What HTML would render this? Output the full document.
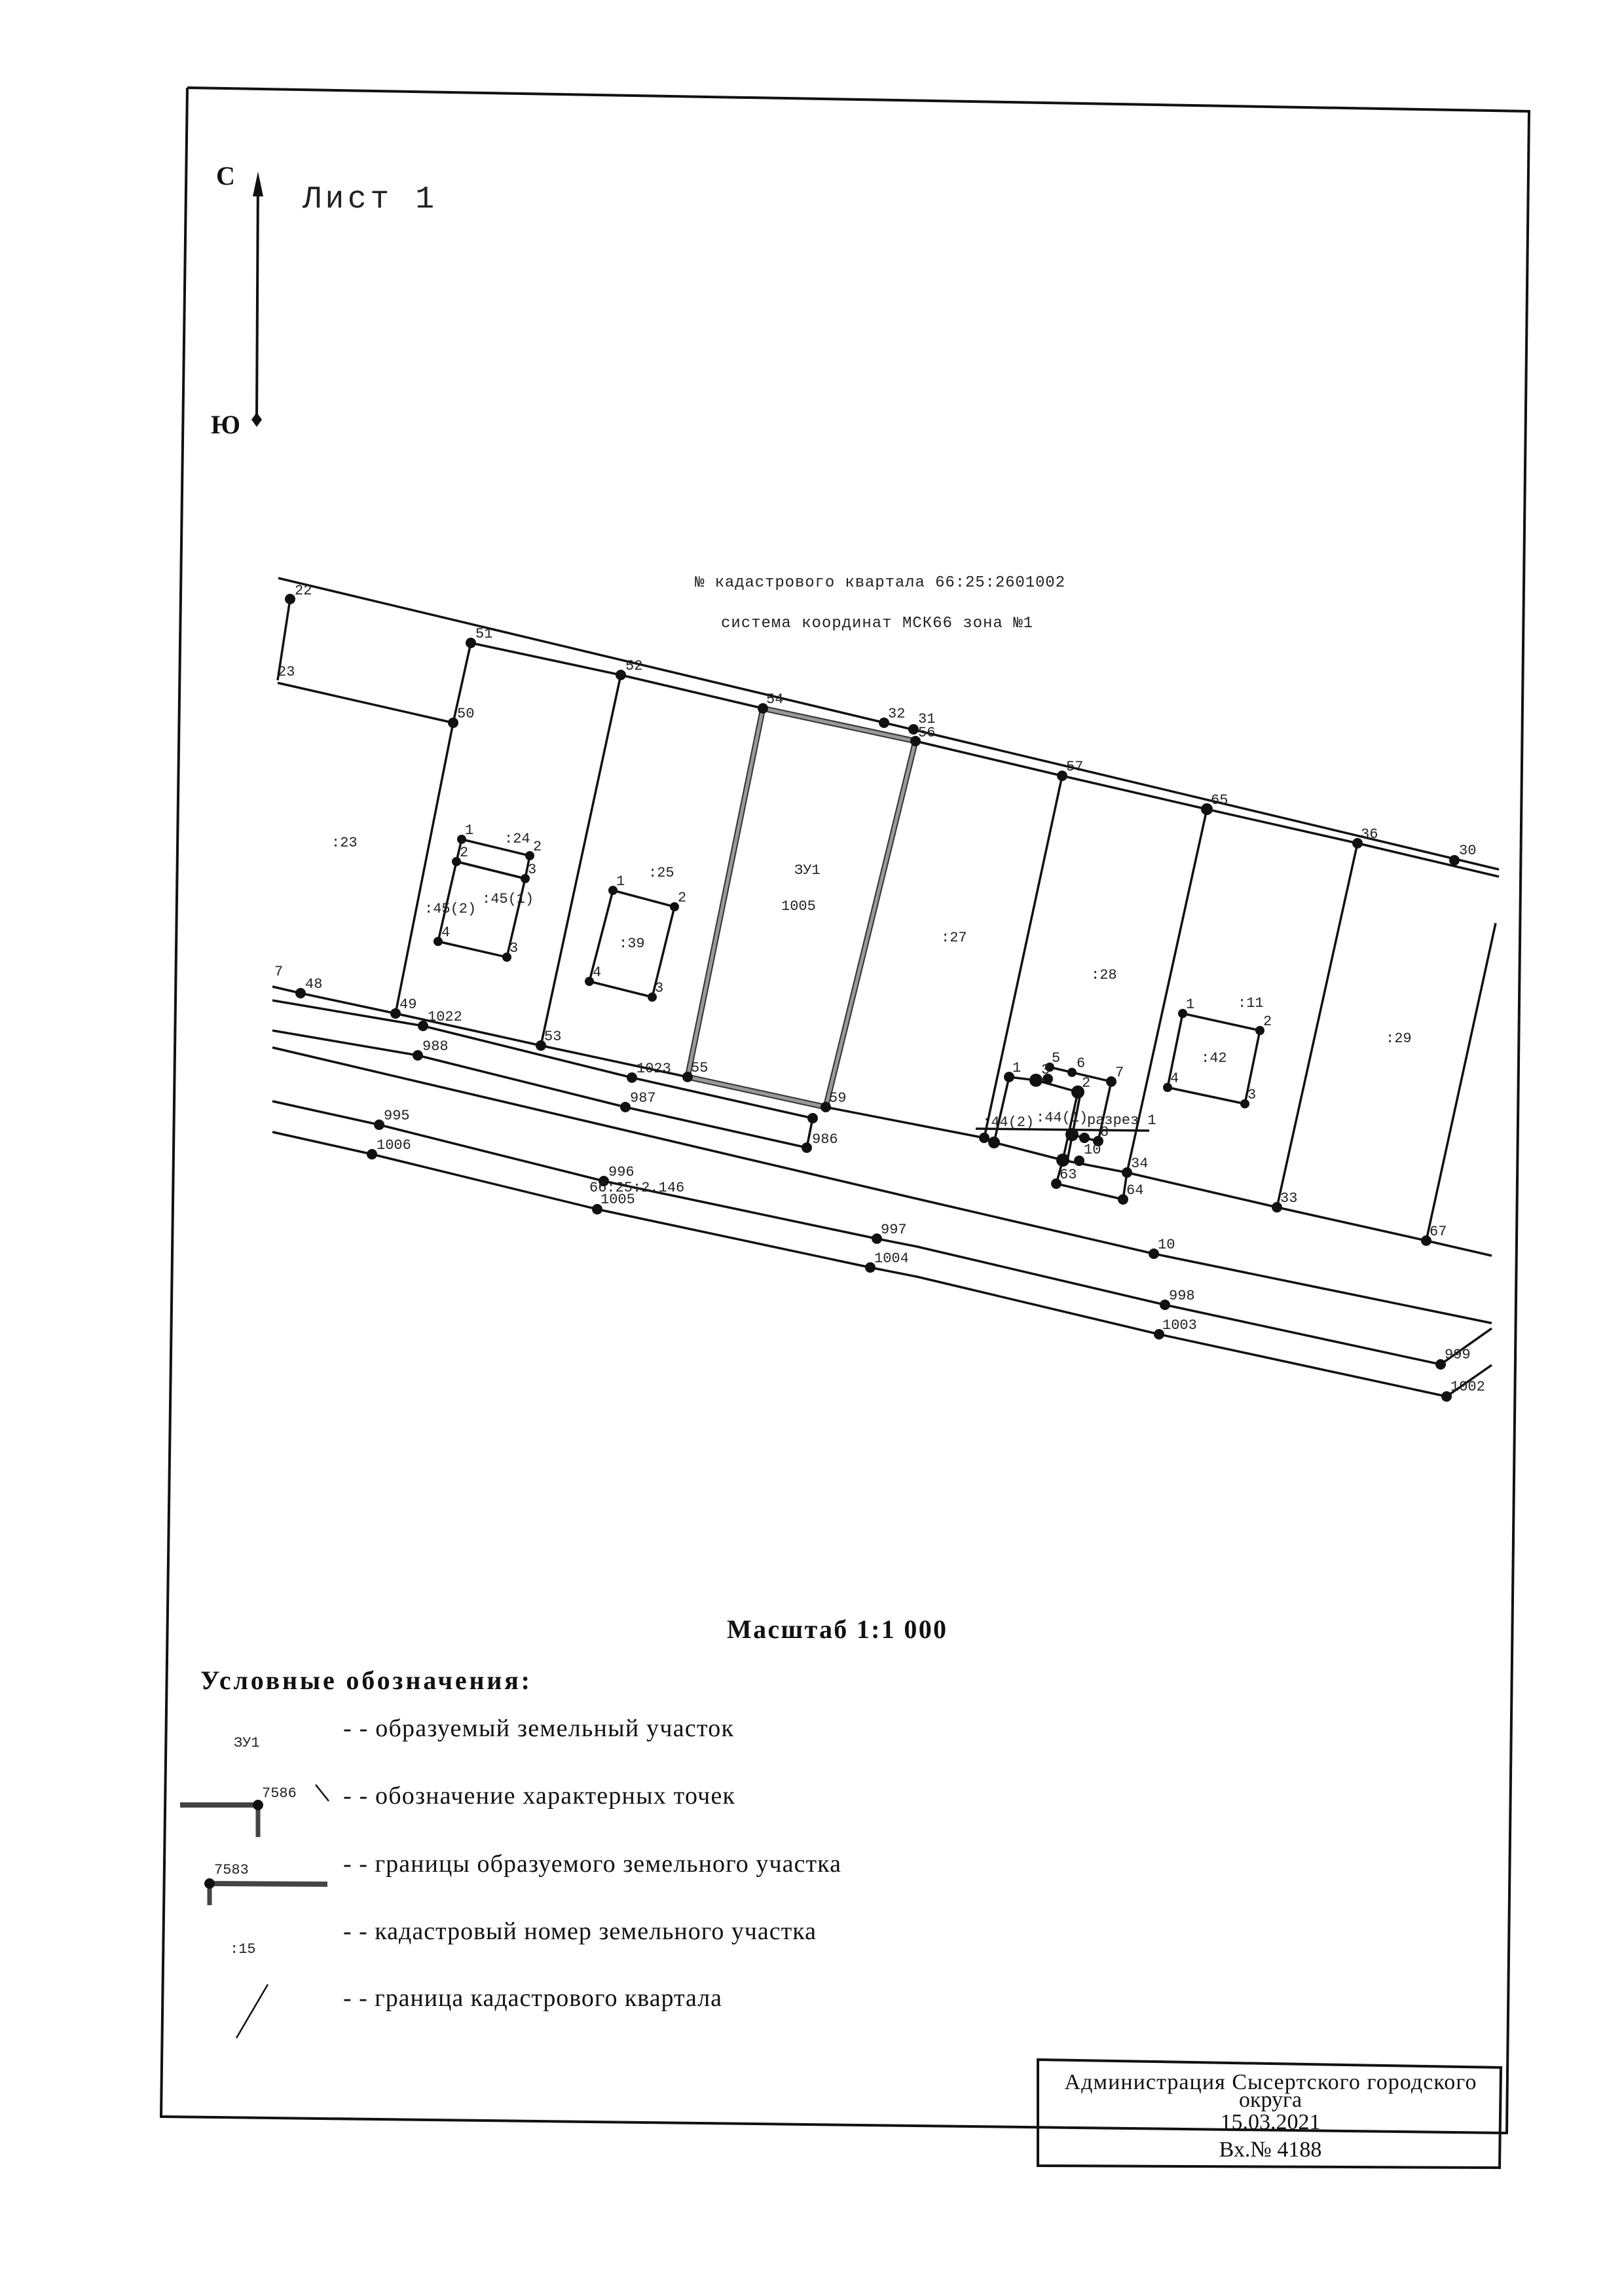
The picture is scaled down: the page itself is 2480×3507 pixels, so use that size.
<!DOCTYPE html>
<html><head><meta charset="utf-8"><style>
html,body{margin:0;padding:0;background:#fff}
svg{display:block}
.m{font-family:"Liberation Mono",monospace;fill:#222}
.s{font-family:"Liberation Serif",serif;fill:#111}
</style></head><body>
<svg width="2480" height="3507" viewBox="0 0 2480 3507" xmlns="http://www.w3.org/2000/svg">
<rect width="2480" height="3507" fill="#fff"/>
<!-- frame -->
<polyline points="286,134 2335,170 2301,3258 246,3233 286,134" fill="none" stroke="#111" stroke-width="4"/>
<!-- north arrow -->
<line x1="394" y1="275" x2="392" y2="640" stroke="#111" stroke-width="4"/>
<polygon points="394,262 386,300 402,300" fill="#111"/>
<polygon points="392,652 384,641 392,630 400,641" fill="#111"/>
<text x="330" y="282" class="s" font-size="40" font-weight="bold">С</text>
<text x="322" y="662" class="s" font-size="40" font-weight="bold">Ю</text>
<text x="462" y="317" class="m" font-size="48" textLength="201" style="font-family:'Liberation Mono',monospace">Лист 1</text>
<!-- header -->
<text x="1061" y="896" class="m" font-size="24" textLength="565">№ кадастрового квартала 66:25:2601002</text>
<text x="1101" y="958" class="m" font-size="24" textLength="476">система координат МСК66 зона №1</text>

<g fill="none" stroke="#111" stroke-width="3.5">
<!-- line A & B -->
<line x1="425" y1="883" x2="2289" y2="1328"/>
<polyline points="719,982 948,1031 1165,1082 1398,1132 1622,1185 1843,1236 2073,1288 2289,1339"/>
<line x1="443" y1="915" x2="424" y2="1039"/>
<line x1="424" y1="1043" x2="692" y2="1104"/>
<polyline points="719,982 692,1104 604,1548"/>
<line x1="948" y1="1031" x2="826" y2="1597"/>
<line x1="1622" y1="1185" x2="1503" y2="1738"/>
<polyline points="1843,1236 1721,1791 1715,1832"/>
<line x1="2073" y1="1288" x2="1950" y2="1844"/>
<line x1="2284" y1="1410" x2="2178" y2="1895"/>
<!-- L1 -->
<polyline points="416,1507 459,1517 604,1548 826,1597 1050,1645 1261,1691 1503,1738 1518,1745 1623,1772 1721,1791 1950,1844 2178,1895 2278,1918"/>
<!-- L2 -->
<polyline points="416,1528 646,1567 965,1646 1241,1708 1232,1753 955,1691 638,1612 416,1574"/>
<!-- L4 -->
<polyline points="416,1600 1400,1831 1762,1915 2278,2021"/>
<!-- L5 -->
<polyline points="416,1682 579,1718 922,1804 1339,1892 1400,1904 1779,1993 2200,2084 2278,2029"/>
<!-- L6 -->
<polyline points="416,1729 568,1763 912,1847 1329,1936 1400,1950 1770,2038 2209,2133 2278,2085"/>
<!-- buildings -->
<polygon points="705,1282 809,1307 802,1342 697,1316"/>
<polygon points="697,1316 802,1342 774,1462 669,1438"/>
<polygon points="936,1360 1030,1385 996,1523 900,1499"/>
<polygon points="1806,1548 1924,1574 1901,1686 1783,1661"/>
<!-- cluster -->
<polyline points="1541,1645 1582,1650 1646,1668 1623,1772"/>
<polyline points="1541,1645 1518,1745"/>
<polyline points="1603,1630 1637,1638 1697,1652 1677,1743 1656,1738 1637,1733"/>
<polyline points="1650,1670 1630,1772"/>
<polyline points="1623,1772 1613,1808 1715,1832"/>
<line x1="1490" y1="1724" x2="1755" y2="1727"/>
</g>
<!-- thick gray boundary -->
<polygon points="1165,1082 1398,1132 1261,1691 1050,1645" fill="none" stroke="#333" stroke-width="9"/>
<polygon points="1165,1082 1398,1132 1261,1691 1050,1645" fill="none" stroke="#999" stroke-width="5"/>

<!-- dots -->
<g fill="#111">
<circle cx="443" cy="915" r="8"/><circle cx="1350" cy="1104" r="8"/><circle cx="1395" cy="1114" r="8"/><circle cx="2221" cy="1314" r="8"/>
<circle cx="719" cy="982" r="8"/><circle cx="948" cy="1031" r="8"/><circle cx="1165" cy="1082" r="8"/><circle cx="1398" cy="1132" r="8"/>
<circle cx="1622" cy="1185" r="8"/><circle cx="1843" cy="1236" r="9"/><circle cx="2073" cy="1288" r="8"/>
<circle cx="692" cy="1104" r="8"/><circle cx="604" cy="1548" r="8"/><circle cx="826" cy="1597" r="8"/><circle cx="1050" cy="1645" r="8"/><circle cx="1261" cy="1691" r="8"/>
<circle cx="459" cy="1517" r="8"/><circle cx="646" cy="1567" r="8"/><circle cx="638" cy="1612" r="8"/><circle cx="965" cy="1646" r="8"/><circle cx="955" cy="1691" r="8"/>
<circle cx="1241" cy="1708" r="8"/><circle cx="1232" cy="1753" r="8"/><circle cx="579" cy="1718" r="8"/><circle cx="568" cy="1763" r="8"/>
<circle cx="922" cy="1804" r="8"/><circle cx="912" cy="1847" r="8"/><circle cx="1339" cy="1892" r="8"/><circle cx="1329" cy="1936" r="8"/>
<circle cx="1721" cy="1791" r="8"/><circle cx="1715" cy="1832" r="8"/><circle cx="1613" cy="1808" r="8"/><circle cx="1950" cy="1844" r="8"/><circle cx="2178" cy="1895" r="8"/>
<circle cx="1762" cy="1915" r="8"/><circle cx="1779" cy="1993" r="8"/><circle cx="2200" cy="2084" r="8"/><circle cx="1770" cy="2038" r="8"/><circle cx="2209" cy="2133" r="8"/>
<circle cx="705" cy="1282" r="7"/><circle cx="809" cy="1307" r="7"/><circle cx="802" cy="1342" r="7"/><circle cx="697" cy="1316" r="7"/><circle cx="774" cy="1462" r="7"/><circle cx="669" cy="1438" r="7"/>
<circle cx="936" cy="1360" r="7"/><circle cx="1030" cy="1385" r="7"/><circle cx="996" cy="1523" r="7"/><circle cx="900" cy="1499" r="7"/>
<circle cx="1806" cy="1548" r="7"/><circle cx="1924" cy="1574" r="7"/><circle cx="1901" cy="1686" r="7"/><circle cx="1783" cy="1661" r="7"/>
<circle cx="1541" cy="1645" r="8"/><circle cx="1582" cy="1650" r="10"/><circle cx="1600" cy="1648" r="8"/><circle cx="1603" cy="1630" r="7"/><circle cx="1637" cy="1638" r="7"/><circle cx="1697" cy="1652" r="8"/>
<circle cx="1646" cy="1668" r="10"/><circle cx="1677" cy="1743" r="8"/><circle cx="1656" cy="1738" r="8"/><circle cx="1637" cy="1733" r="10"/>
<circle cx="1623" cy="1772" r="10"/><circle cx="1648" cy="1773" r="8"/><circle cx="1503" cy="1738" r="8"/><circle cx="1518" cy="1745" r="9"/>
</g>

<!-- point labels -->
<g class="m" font-size="22">
<text x="450" y="908">22</text><text x="424" y="1032">23</text>
<text x="726" y="974">51</text><text x="955" y="1023">52</text><text x="1170" y="1074">54</text>
<text x="1356" y="1096">32</text><text x="1402" y="1104">31</text><text x="1402" y="1125">56</text>
<text x="1628" y="1177">57</text><text x="1849" y="1228">65</text><text x="2078" y="1280">36</text><text x="2228" y="1305">30</text>
<text x="698" y="1096">50</text><text x="610" y="1540">49</text><text x="831" y="1589">53</text><text x="1055" y="1637">55</text><text x="1266" y="1683">59</text>
<text x="419" y="1490">7</text><text x="466" y="1509">48</text><text x="653" y="1559">1022</text><text x="645" y="1604">988</text>
<text x="972" y="1638">1023</text><text x="962" y="1683">987</text><text x="1240" y="1746">986</text>
<text x="586" y="1710">995</text><text x="575" y="1755">1006</text><text x="929" y="1796">996</text><text x="900" y="1820">66:25:2.146</text><text x="917" y="1838">1005</text>
<text x="1345" y="1884">997</text><text x="1335" y="1928">1004</text>
<text x="1727" y="1783">34</text><text x="1720" y="1824">64</text><text x="1618" y="1800">63</text><text x="1955" y="1836">33</text><text x="2183" y="1887">67</text>
<text x="1768" y="1907">10</text><text x="1785" y="1985">998</text><text x="2206" y="2075">999</text><text x="1775" y="2030">1003</text><text x="2215" y="2124">1002</text>
<text x="710" y="1274">1</text><text x="814" y="1299">2</text><text x="806" y="1334">3</text><text x="702" y="1308">2</text><text x="778" y="1454">3</text><text x="674" y="1430">4</text>
<text x="941" y="1352">1</text><text x="1035" y="1377">2</text><text x="1000" y="1515">3</text><text x="905" y="1491">4</text>
<text x="1811" y="1540">1</text><text x="1929" y="1566">2</text><text x="1905" y="1678">3</text><text x="1787" y="1653">4</text>
<text x="1546" y="1637">1</text><text x="1590" y="1640">3</text><text x="1606" y="1622">5</text><text x="1644" y="1630">6</text><text x="1703" y="1644">7</text><text x="1652" y="1660">2</text>
<text x="1680" y="1735">8</text><text x="1655" y="1762">10</text>
<!-- parcel labels -->
<text x="506" y="1293">:23</text><text x="770" y="1287">:24</text><text x="736" y="1379">:45(1)</text><text x="648" y="1394">:45(2)</text>
<text x="990" y="1339">:25</text><text x="945" y="1447">:39</text><text x="1213" y="1335">ЗУ1</text><text x="1193" y="1390">1005</text>
<text x="1437" y="1438">:27</text><text x="1666" y="1495">:28</text><text x="1890" y="1538">:11</text><text x="1834" y="1622">:42</text><text x="2116" y="1592">:29</text>
<text x="1582" y="1713">:44(1)</text><text x="1500" y="1720">:44(2)</text><text x="1660" y="1717">разрез 1</text>
</g>

<!-- scale and legend -->
<text x="1110" y="2502" class="s" font-size="40" font-weight="bold" textLength="335">Масштаб 1:1 000</text>
<text x="306" y="2580" class="s" font-size="40" font-weight="bold" textLength="503">Условные обозначения:</text>
<text x="357" y="2668" class="m" font-size="22">ЗУ1</text>
<line x1="275" y1="2757" x2="394" y2="2757" stroke="#444" stroke-width="8"/>
<line x1="394" y1="2757" x2="394" y2="2806" stroke="#444" stroke-width="7"/>
<circle cx="394" cy="2757" r="8" fill="#111"/>
<text x="400" y="2745" class="m" font-size="22">7586</text>
<line x1="482" y1="2726" x2="502" y2="2751" stroke="#111" stroke-width="2.5"/>
<line x1="320" y1="2877" x2="500" y2="2878" stroke="#444" stroke-width="8"/>
<line x1="320" y1="2877" x2="320" y2="2910" stroke="#444" stroke-width="7"/>
<circle cx="320" cy="2877" r="8" fill="#111"/>
<text x="327" y="2862" class="m" font-size="22">7583</text>
<text x="351" y="2983" class="m" font-size="22">:15</text>
<line x1="409" y1="3031" x2="361" y2="3113" stroke="#111" stroke-width="2.5"/>
<g class="s" font-size="38">
<text x="524" y="2652" textLength="596">- - образуемый земельный участок</text>
<text x="524" y="2755" textLength="598">- - обозначение характерных точек</text>
<text x="524" y="2859" textLength="760">- - границы образуемого земельного участка</text>
<text x="524" y="2962" textLength="722">- - кадастровый номер земельного участка</text>
<text x="524" y="3064" textLength="578">- - граница кадастрового квартала</text>
</g>
<!-- stamp -->
<polygon points="1585,3146 2292,3158 2290,3311 1585,3308" fill="none" stroke="#111" stroke-width="4"/>
<g class="s" font-size="34" text-anchor="middle">
<text x="1940" y="3191" textLength="629">Администрация Сысертского городского</text>
<text x="1940" y="3218">округа</text>
<text x="1940" y="3252">15.03.2021</text>
<text x="1940" y="3294">Вх.№ 4188</text>
</g>
</svg>
</body></html>
